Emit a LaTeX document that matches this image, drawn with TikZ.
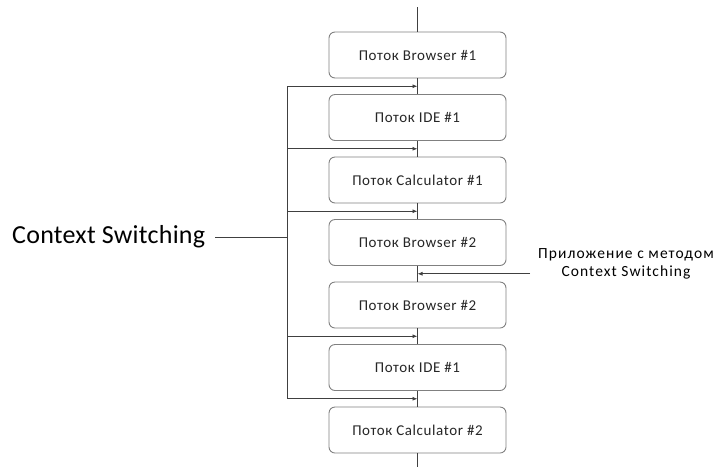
\documentclass[tikz,border=0pt]{standalone}
\usepackage{fontspec}
\setmainfont{Carlito}
\usetikzlibrary{arrows.meta,calc}
\begin{document}
\begin{tikzpicture}[x=1pt,y=-1pt,
  thr/.style={draw=black!50, line width=0.9pt, rounded corners=6pt, minimum width=177pt, minimum height=46pt, font=\fontsize{15}{17}\selectfont\addfontfeatures{LetterSpace=4}, text=black!85, inner sep=0pt},
  ln/.style={draw=black!75, line width=0.8pt},
  arr/.style={ln, -{Latex[length=5pt,width=4pt]}}]
\useasboundingbox (0,0) rectangle (727,467);
\node[thr] (b1) at (417.5,55) {Поток Browser \#1};
\node[thr] (b2) at (417.5,117.5) {Поток IDE \#1};
\node[thr] (b3) at (417.5,180) {Поток Calculator \#1};
\node[thr] (b4) at (417.5,242.5) {Поток Browser \#2};
\node[thr] (b5) at (417.5,305) {Поток Browser \#2};
\node[thr] (b6) at (417.5,367.5) {Поток IDE \#1};
\node[thr] (b7) at (417.5,430) {Поток Calculator \#2};
\coordinate (top) at (417.5,7);
\coordinate (bot) at (417.5,467);
\draw[ln] (top) -- (b1.north);
\draw[ln] (b1.south) -- (b2.north);
\draw[ln] (b2.south) -- (b3.north);
\draw[ln] (b3.south) -- (b4.north);
\draw[ln] (b4.south) -- (b5.north);
\draw[ln] (b5.south) -- (b6.north);
\draw[ln] (b6.south) -- (b7.north);
\draw[ln] (b7.south) -- (bot);
% gap points on the centre line
\coordinate (g1) at ($(b1.south)!0.5!(b2.north)$);
\coordinate (g2) at ($(b2.south)!0.5!(b3.north)$);
\coordinate (g3) at ($(b3.south)!0.5!(b4.north)$);
\coordinate (g4) at ($(b4.south)!0.5!(b5.north)$);
\coordinate (g5) at ($(b5.south)!0.5!(b6.north)$);
\coordinate (g6) at ($(b6.south)!0.5!(b7.north)$);
% bus points
\path (g1) -- ++(-130.5,0) coordinate (s1);
\path (g2) -- ++(-130.5,0) coordinate (s2);
\path (g3) -- ++(-130.5,0) coordinate (s3);
\path (g5) -- ++(-130.5,0) coordinate (s5);
\path (g6) -- ++(-130.5,0) coordinate (s6);
\draw[ln] (s1) -- (s6);
\draw[arr] (s1) -- (g1);
\draw[arr] (s2) -- (g2);
\draw[arr] (s3) -- (g3);
\draw[arr] (s5) -- (g5);
\draw[arr] (s6) -- (g6);
% left label
\node[anchor=west, inner xsep=0pt, font=\fontsize{26}{30}\selectfont\addfontfeatures{LetterSpace=1}, text=black] (ctx) at (12,237) {Context Switching};
\coordinate (cb) at (287,237);
\draw[ln] ($(ctx.east)+(10,0)$) -- (cb);
% right label
\node[align=center, font=\fontsize{15.5}{18}\selectfont\addfontfeatures{LetterSpace=7}, text=black] (app) at (626,264) {Приложение с методом\\Context Switching};
\path (g4) -- ++(112.5,0) coordinate (ap);
\draw[arr] (ap) -- (g4);
\end{tikzpicture}
\end{document}
